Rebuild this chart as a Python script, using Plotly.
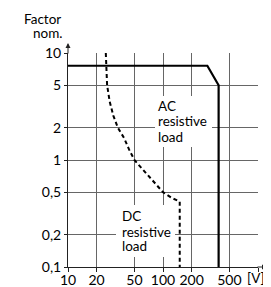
import plotly.graph_objects as go

# ---- data ----
x_ticks = [10, 20, 50, 100, 200, 500, 1000]
x_ticktext = ["10", "20", "50", "100", "200", "500", ""]
x_unit = "[V]"
y_ticks = [0.1, 0.2, 0.5, 1, 2, 5, 10]
y_ticktext = ["0,1", "0,2", "0,5", "1", "2", "5", "10"]

ac_voltage = [10, 293, 385, 385]
ac_factor = [7.6, 7.6, 5, 0.1]

dc_voltage = [25, 25.8, 27.5, 30, 33.5, 39, 44, 50, 70, 100, 125, 150, 150]
dc_factor = [10, 5, 3.5, 2.6, 2, 1.6, 1.25, 1, 0.714, 0.5, 0.44, 0.41, 0.1]

# page body adds an 8px offset; layout targets below are in screenshot pixels
OFF = 8
W, H = 271, 287
L, T = 60, 45
PW, PH = 190, 214
R, B = W - L - PW, H - T - PH

def px(p):
    return (p - OFF - L) / PW

def py(p):
    return (T + PH - (p - OFF)) / PH

FONT = "Lato"
fig = go.Figure()
fig.add_trace(go.Scatter(x=ac_voltage, y=ac_factor, mode="lines",
                         line=dict(color="black", width=2.2), hoverinfo="skip"))
fig.add_trace(go.Scatter(x=dc_voltage, y=dc_factor, mode="lines",
                         line=dict(color="black", width=2, dash="4px,3px"), hoverinfo="skip"))

shapes = [
    dict(type="rect", xref="paper", yref="paper", x0=px(155), x1=px(212), y0=py(147), y1=py(96),
         fillcolor="white", line=dict(width=0), layer="above"),
    dict(type="rect", xref="paper", yref="paper", x0=px(116), x1=px(175), y0=py(257), y1=py(205),
         fillcolor="white", line=dict(width=0), layer="above"),
]

ann = []
def label(text, xl, baseline, anchor="left", size=13.5):
    ann.append(dict(text=text, xref="paper", yref="paper", x=px(xl), y=py(baseline - 5),
                    xanchor=anchor, yanchor="middle", showarrow=False, borderpad=0, borderwidth=0,
                    font=dict(family=FONT, size=size, color="black")))

label("AC", 158, 110.7)
label("resistive", 158, 126)
label("load", 158, 141.7)
label("DC", 121.5, 221)
label("resistive", 121.5, 236.5)
label("load", 121.5, 251)
label("Factor", 61, 24, "right")
label("nom.", 62, 38, "right")
label(x_unit, 265, 283, "right", 13.5)

# axis arrows
ann.append(dict(xref="paper", yref="paper", x=0, y=py(43), ax=0, ay=12, text="",
                showarrow=True, arrowhead=2, arrowsize=1, arrowwidth=1, arrowcolor="#222"))
ann.append(dict(xref="paper", yref="paper", x=px(267), y=0, ax=-11, ay=0, text="",
                showarrow=True, arrowhead=2, arrowsize=1, arrowwidth=1, arrowcolor="#222"))

fig.update_layout(
    width=W, height=H, margin=dict(l=L, r=R, t=T, b=B, autoexpand=False),
    plot_bgcolor="white", paper_bgcolor="white", showlegend=False,
    shapes=shapes, annotations=ann,
    font=dict(family=FONT, size=14, color="black"),
)
fig.update_xaxes(type="log", range=[1, 3], tickvals=x_ticks, ticktext=x_ticktext,
                 showgrid=True, gridcolor="#666", gridwidth=1, automargin=False,
                 showline=True, linecolor="#222", linewidth=1,
                 ticks="outside", ticklen=4, tickcolor="#222",
                 ticklabelstandoff=-4, ticklabeloverflow="allow",
                 tickfont=dict(family=FONT, size=14), zeroline=False)
fig.update_yaxes(type="log", range=[-1, 1], tickvals=y_ticks, ticktext=y_ticktext,
                 showgrid=True, gridcolor="#666", gridwidth=1, automargin=False,
                 showline=True, linecolor="#222", linewidth=1,
                 ticks="outside", ticklen=3, tickcolor="#222",
                 tickfont=dict(family=FONT, size=14), zeroline=False)

fig.write_html("out.html")
